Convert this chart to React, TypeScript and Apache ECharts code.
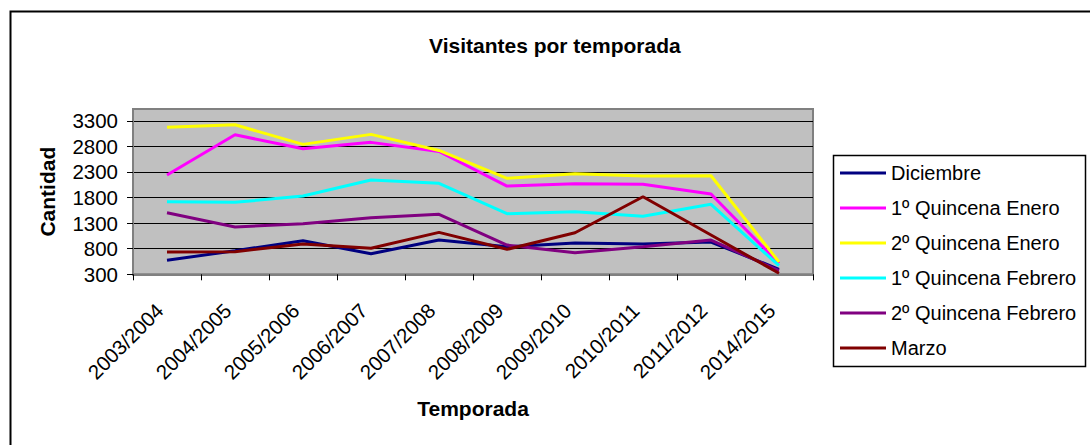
import React, { useEffect, useRef } from "react";
import * as echarts from "echarts";

const seasons = [
  "2003/2004", "2004/2005", "2005/2006", "2006/2007", "2007/2008",
  "2008/2009", "2009/2010", "2010/2011", "2011/2012", "2014/2015",
];

const diciembre = [573, 761, 956, 702, 970, 839, 911, 892, 931, 398];
const quincena1Enero = [2239, 3026, 2753, 2878, 2700, 2024, 2069, 2058, 1868, 515];
const quincena2Enero = [3171, 3222, 2839, 3034, 2720, 2175, 2265, 2220, 2226, 540];
const quincena1Febrero = [1718, 1706, 1829, 2142, 2077, 1484, 1523, 1433, 1667, 468];
const quincena2Febrero = [1503, 1224, 1288, 1405, 1472, 872, 722, 839, 970, 370];
const marzo = [735, 741, 892, 808, 1120, 788, 1112, 1816, 1067, 320];

const yTicks = [300, 800, 1300, 1800, 2300, 2800, 3300];

const seriesDefs = [
  { name: "Diciembre", data: diciembre, color: "#000080" },
  { name: "1º Quincena Enero", data: quincena1Enero, color: "#FF00FF" },
  { name: "2º Quincena Enero", data: quincena2Enero, color: "#FFFF00" },
  { name: "1º Quincena Febrero", data: quincena1Febrero, color: "#00FFFF" },
  { name: "2º Quincena Febrero", data: quincena2Febrero, color: "#800080" },
  { name: "Marzo", data: marzo, color: "#800000" },
];

const FONT = "'Liberation Sans', Arial, sans-serif";

export default function App() {
  const ref = useRef<HTMLDivElement>(null);

  useEffect(() => {
    document.body.style.margin = "0";
    if (!ref.current) return;
    const chart = echarts.init(ref.current, null, { renderer: "svg" });
    chart.setOption({
      animation: false,
      backgroundColor: "#ffffff",
      textStyle: { fontFamily: FONT, color: "#000" },
      title: {
        text: "Visitantes por temporada",
        left: 429,
        top: 35,
        padding: 0,
        textStyle: { fontFamily: FONT, fontSize: 21, fontWeight: "bold", color: "#000" },
      },
      graphic: [
        {
          type: "rect",
          shape: { x: 10.5, y: 11.5, width: 1200, height: 600 },
          style: { fill: "none", stroke: "#000", lineWidth: 2 },
          z: 100,
          silent: true,
        },
        {
          type: "rect",
          shape: { x: 833.5, y: 155.5, width: 252, height: 211 },
          style: { fill: "#fff", stroke: "#000", lineWidth: 1.5 },
          z: 0,
          silent: true,
        },
      ],
      legend: {
        orient: "vertical",
        left: 840,
        top: 163,
        padding: 0,
        icon: "rect",
        itemWidth: 46,
        itemHeight: 3,
        itemGap: 15,
        textStyle: { fontFamily: FONT, fontSize: 20, lineHeight: 20, color: "#000" },
        data: seriesDefs.map((s) => s.name),
        z: 10,
      },
      grid: {
        left: 133,
        top: 109,
        width: 680,
        height: 165.3,
        show: true,
        backgroundColor: "#C0C0C0",
        borderColor: "#808080",
        borderWidth: 2,
        containLabel: false,
        outerBoundsMode: "none",
      },
      xAxis: {
        type: "category",
        data: seasons,
        boundaryGap: true,
        name: "Temporada",
        nameLocation: "middle",
        nameGap: 124,
        nameTextStyle: { fontFamily: FONT, fontSize: 21, fontWeight: "bold", color: "#000" },
        axisLine: { show: true, lineStyle: { color: "#808080", width: 2 } },
        axisTick: { show: true, inside: false, length: 6, alignWithLabel: false, interval: 0, lineStyle: { color: "#000" } },
        axisLabel: {
          interval: 0,
          rotate: 45,
          margin: 40,
          verticalAlign: "bottom",
          fontFamily: FONT,
          fontSize: 20.5,
          color: "#000",
        },
        splitLine: { show: false },
      },
      yAxis: {
        type: "value",
        min: 300,
        max: 3530,
        interval: 500,
        name: "Cantidad",
        nameLocation: "middle",
        nameRotate: 90,
        nameGap: 75,
        nameTextStyle: { fontFamily: FONT, fontSize: 21, fontWeight: "bold", color: "#000" },
        axisLine: { show: true, lineStyle: { color: "#808080", width: 2 } },
        axisTick: { show: true, inside: false, length: 6, lineStyle: { color: "#000" }, customValues: yTicks },
        axisLabel: {
          margin: 15,
          customValues: yTicks,
          formatter: (v: number) => String(v),
          fontFamily: FONT,
          fontSize: 20.5,
          color: "#000",
        },
        splitLine: { show: true, lineStyle: { color: "#000", width: 1 } },
      },
      series: seriesDefs.map((s) => ({
        name: s.name,
        type: "line",
        data: s.data,
        color: s.color,
        showSymbol: false,
        symbol: "none",
        smooth: false,
        lineStyle: { color: s.color, width: 3 },
        itemStyle: { color: s.color },
      })),
    });
    return () => chart.dispose();
  }, []);

  return <div ref={ref} style={{ width: 1090, height: 445 }} />;
}
